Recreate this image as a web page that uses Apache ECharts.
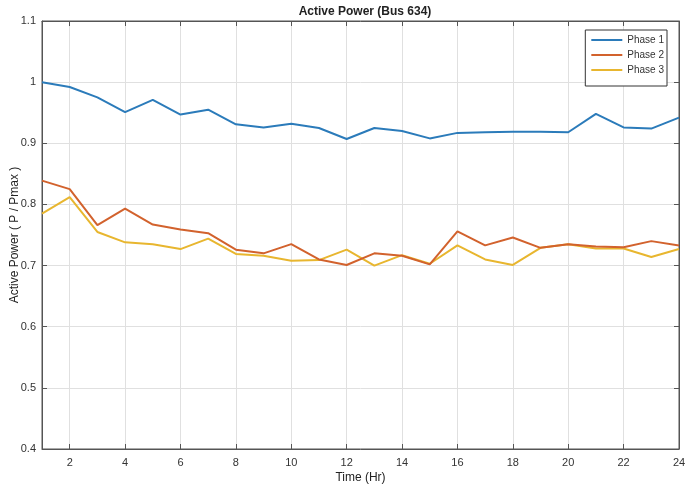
<!DOCTYPE html>
<html><head><meta charset="utf-8">
<script src="https://cdn.jsdelivr.net/npm/echarts@6/dist/echarts.min.js"></script>
<style>html,body{margin:0;padding:0;background:#fff}#c{width:685px;height:491px}</style>
</head><body><div id="c"></div>
<script>
const hours = ['1','2','3','4','5','6','7','8','9','10','11','12','13','14','15','16','17','18','19','20','21','22','23','24'];
const phase1 = [1.000,0.992,0.975,0.951,0.971,0.947,0.955,0.931,0.926,0.932,0.925,0.907,0.925,0.920,0.908,0.917,0.918,0.919,0.919,0.918,0.948,0.926,0.924,0.942];
const phase2 = [0.839,0.825,0.766,0.793,0.767,0.759,0.753,0.726,0.720,0.735,0.710,0.701,0.720,0.716,0.702,0.756,0.733,0.746,0.729,0.735,0.731,0.730,0.740,0.733];
const phase3 = [0.785,0.812,0.755,0.738,0.735,0.727,0.744,0.719,0.716,0.708,0.709,0.726,0.700,0.717,0.703,0.733,0.710,0.701,0.729,0.735,0.728,0.728,0.714,0.727];
const seriesNames = ['Phase 1','Phase 2','Phase 3'];
const colors = ['#2b7bba','#d2622d','#e8b62f'];
const font = 'Liberation Sans, Arial, sans-serif';
const evenOnly = (i, v) => (i + 1) % 2 === 0;
const chart = echarts.init(document.getElementById('c'));
chart.setOption({
  animation: false,
  title: {text: 'Active Power (Bus 634)', left: 360, top: 1, textAlign: 'center',
    textStyle: {fontFamily: font, fontSize: 12, fontWeight: 'bold', color: '#222'}},
  legend: {orient: 'vertical', right: 18, top: 30, itemWidth: 31, itemHeight: 2, itemGap: 3,
    data: seriesNames, icon: 'rect', borderColor: '#333', borderWidth: 1, padding: [4,3,10,6],
    textStyle: {fontFamily: font, fontSize: 10, lineHeight: 12, color: '#333'}, backgroundColor: '#fff'},
  grid: {left: 42, right: 6, top: 21, bottom: 42, show: true, borderColor: '#555', borderWidth: 1,
    containLabel: false, outerBoundsMode: 'none'},
  xAxis: [{type: 'category', data: hours, boundaryGap: false, name: 'Time (Hr)', nameLocation: 'middle', nameGap: 23,
    nameMoveOverlap: false,
    nameTextStyle: {fontFamily: font, fontSize: 12, color: '#222'},
    axisLine: {lineStyle: {color: '#555'}},
    axisTick: {inside: true, length: 5, interval: evenOnly, lineStyle: {color: '#555'}},
    axisLabel: {interval: evenOnly, fontFamily: font, fontSize: 11, color: '#333', margin: 8},
    splitLine: {show: true, interval: evenOnly, lineStyle: {color: '#e0e0e0'}}},
   {type: 'category', data: hours, boundaryGap: false, position: 'top',
    axisLine: {lineStyle: {color: '#555'}},
    axisTick: {inside: true, length: 5, interval: evenOnly, lineStyle: {color: '#555'}},
    axisLabel: {show: false}, splitLine: {show: false}}],
  yAxis: [{type: 'value', min: 0.4, max: 1.1, interval: 0.1, name: 'Active Power ( P / Pmax )', nameLocation: 'middle', nameGap: 21,
    nameMoveOverlap: false,
    nameTextStyle: {fontFamily: font, fontSize: 12, color: '#222'},
    axisLine: {show: true, lineStyle: {color: '#555'}},
    axisTick: {show: true, inside: true, length: 5, lineStyle: {color: '#555'}},
    axisLabel: {fontFamily: font, fontSize: 11, color: '#333', margin: 6,
      formatter: v => String(Math.round(v * 10) / 10)},
    splitLine: {show: true, lineStyle: {color: '#e0e0e0'}}},
   {type: 'value', min: 0.4, max: 1.1, interval: 0.1, position: 'right',
    axisLine: {show: true, lineStyle: {color: '#555'}},
    axisTick: {show: true, inside: true, length: 5, lineStyle: {color: '#555'}},
    axisLabel: {show: false}, splitLine: {show: false}}],
  series: [phase1, phase2, phase3].map((d, i) => ({
    name: seriesNames[i], type: 'line', data: d, symbol: 'none',
    lineStyle: {width: 2, color: colors[i]}, itemStyle: {color: colors[i]}, z: 3 - i
  }))
});
</script></body></html>
